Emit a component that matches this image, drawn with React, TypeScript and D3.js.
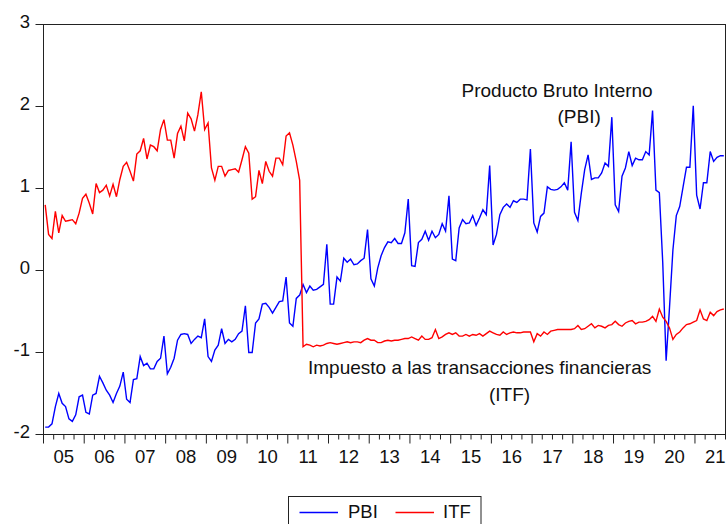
import * as d3 from "d3";

// monthly observations, 2005M01 .. 2021M09
const startYear = 2005;
const nObs = 201;

// Producto Bruto Interno (standardised)
const pbi = [
  -1.91, -1.91, -1.87, -1.66, -1.5, -1.62, -1.66, -1.81, -1.84, -1.76, -1.54, -1.52, // 05
  -1.73, -1.75, -1.52, -1.5, -1.29, -1.37, -1.46, -1.52, -1.61, -1.5, -1.41, -1.24, // 06
  -1.57, -1.61, -1.33, -1.32, -1.05, -1.16, -1.13, -1.2, -1.2, -1.11, -1.07, -0.8, // 07
  -1.26, -1.18, -1.07, -0.85, -0.78, -0.77, -0.78, -0.89, -0.84, -0.8, -0.82, -0.59, // 08
  -1.05, -1.11, -0.97, -0.91, -0.71, -0.89, -0.84, -0.87, -0.84, -0.77, -0.74, -0.43, // 09
  -1.0, -1.0, -0.64, -0.59, -0.41, -0.4, -0.45, -0.52, -0.45, -0.38, -0.37, -0.08, // 10
  -0.64, -0.68, -0.34, -0.3, -0.17, -0.27, -0.19, -0.24, -0.23, -0.2, -0.17, 0.32, // 11
  -0.41, -0.41, -0.08, -0.13, 0.15, 0.1, 0.14, 0.07, 0.08, 0.12, 0.15, 0.5, // 12
  -0.1, -0.19, 0.03, 0.18, 0.28, 0.35, 0.34, 0.39, 0.33, 0.33, 0.46, 0.87, // 13
  0.06, 0.05, 0.34, 0.38, 0.48, 0.37, 0.48, 0.4, 0.44, 0.57, 0.48, 0.91, // 14
  0.14, 0.12, 0.52, 0.62, 0.57, 0.58, 0.67, 0.55, 0.64, 0.74, 0.68, 1.28, // 15
  0.31, 0.44, 0.68, 0.77, 0.81, 0.77, 0.85, 0.83, 0.87, 0.87, 0.86, 1.48, // 16
  0.58, 0.47, 0.66, 0.7, 1.02, 0.99, 0.98, 0.99, 1.02, 1.07, 0.98, 1.57, // 17
  0.71, 0.61, 0.94, 1.23, 1.41, 1.11, 1.13, 1.13, 1.19, 1.31, 1.27, 1.87, // 18
  0.8, 0.72, 1.15, 1.25, 1.45, 1.28, 1.37, 1.35, 1.35, 1.45, 1.41, 1.95, // 19
  0.98, 0.95, 0.1, -1.1, -0.45, 0.25, 0.67, 0.78, 1.02, 1.26, 1.26, 2.01, // 20
  0.92, 0.75, 1.07, 1.07, 1.45, 1.33, 1.38, 1.4, 1.4, // 21
];

// Impuesto a las transacciones financieras (standardised)
const itf = [
  0.8, 0.44, 0.39, 0.72, 0.46, 0.67, 0.6, 0.61, 0.62, 0.57, 0.7, 0.88, // 05
  0.93, 0.82, 0.69, 1.06, 0.95, 0.98, 1.04, 0.91, 1.05, 0.9, 1.11, 1.27, // 06
  1.32, 1.21, 1.09, 1.42, 1.46, 1.61, 1.36, 1.53, 1.51, 1.46, 1.72, 1.84, // 07
  1.59, 1.59, 1.37, 1.67, 1.76, 1.58, 1.92, 1.85, 1.7, 1.9, 2.18, 1.72, // 08
  1.8, 1.25, 1.1, 1.27, 1.27, 1.15, 1.22, 1.23, 1.24, 1.2, 1.35, 1.51, // 09
  1.43, 0.87, 0.9, 1.22, 1.06, 1.33, 1.21, 1.15, 1.37, 1.37, 1.29, 1.64, // 10
  1.68, 1.53, 1.33, 1.1, -0.93, -0.9, -0.91, -0.93, -0.91, -0.92, -0.91, -0.89, // 11
  -0.88, -0.89, -0.9, -0.89, -0.88, -0.87, -0.88, -0.87, -0.87, -0.88, -0.85, -0.83, // 12
  -0.85, -0.85, -0.88, -0.88, -0.86, -0.85, -0.86, -0.85, -0.85, -0.84, -0.83, -0.83, // 13
  -0.81, -0.83, -0.85, -0.8, -0.84, -0.84, -0.82, -0.72, -0.83, -0.81, -0.78, -0.76, // 14
  -0.78, -0.76, -0.8, -0.8, -0.78, -0.8, -0.78, -0.79, -0.77, -0.8, -0.77, -0.74, // 15
  -0.76, -0.78, -0.79, -0.75, -0.78, -0.76, -0.75, -0.76, -0.76, -0.75, -0.75, -0.75, // 16
  -0.87, -0.77, -0.8, -0.75, -0.78, -0.74, -0.73, -0.72, -0.72, -0.72, -0.72, -0.72, // 17
  -0.71, -0.67, -0.72, -0.71, -0.68, -0.65, -0.7, -0.67, -0.68, -0.7, -0.67, -0.66, // 18
  -0.62, -0.66, -0.68, -0.64, -0.62, -0.61, -0.65, -0.63, -0.63, -0.62, -0.6, -0.56, // 19
  -0.62, -0.47, -0.57, -0.62, -0.7, -0.84, -0.78, -0.75, -0.7, -0.66, -0.65, -0.63, // 20
  -0.61, -0.48, -0.59, -0.61, -0.51, -0.55, -0.5, -0.48, -0.47, // 21
];

const yTicks = [-2, -1, 0, 1, 2, 3];
const yearLabels = ["05", "06", "07", "08", "09", "10", "11", "12", "13", "14", "15", "16", "17", "18", "19", "20", "21"];

const W = 728;
const H = 524;
const left = 43.5;
const right = 725.5;
const top = 24.5;
const bottom = 434.5;
const font = "'Liberation Sans', Arial, sans-serif";

export default function App() {
  const x = d3.scaleLinear().domain([-0.5, nObs - 0.5]).range([left, right]);
  const y = d3.scaleLinear().domain([-2, 3]).range([bottom, top]);

  const line = d3
    .line<number>()
    .x((_, i) => x(i))
    .y((d) => y(d));

  // quarterly ticks, the yearly ones longer
  const qTicks = d3.range(0, nObs + 1, 3);

  return (
    <svg
      width={W}
      height={H}
      style={{ position: "absolute", left: 0, top: 0, background: "#fff" }}
      fontFamily={font}
    >
      <path d={line(pbi) ?? ""} fill="none" stroke="#0000ff" strokeWidth={1.4} />
      <path d={line(itf) ?? ""} fill="none" stroke="#ff0000" strokeWidth={1.4} />

      <rect x={left} y={top} width={right - left} height={bottom - top} fill="none" stroke="#222" strokeWidth={1} />

      {yTicks.map((t) => (
        <g key={t}>
          <line x1={left - 8} x2={left} y1={y(t)} y2={y(t)} stroke="#222" />
          <text x={30} y={y(t) + 3} textAnchor="end" fontSize={18.5} fill="#111">
            {t}
          </text>
        </g>
      ))}

      {qTicks.map((q) => (
        <line
          key={q}
          x1={x(q - 0.5)}
          x2={x(q - 0.5)}
          y1={bottom}
          y2={bottom + (q % 12 === 0 ? 9 : 5)}
          stroke="#222"
        />
      ))}
      {yearLabels.map((lab, k) => (
        <text key={lab} x={x(12 * k + 5.5)} y={463} textAnchor="middle" fontSize={18.5} fill="#111">
          {lab}
        </text>
      ))}

      <g fontSize={19} fill="#111">
        <text x={461.5} y={96.5}>Producto Bruto Interno</text>
        <text x={557.5} y={123}>(PBI)</text>
        <text x={308} y={373.5}>Impuesto a las transacciones financieras</text>
        <text x={489} y={401}>(ITF)</text>
      </g>

      <g>
        <rect x={288.5} y={496.5} width={192.5} height={40} fill="#fff" stroke="#222" />
        <line x1={299.5} x2={338} y1={512.5} y2={512.5} stroke="#0000ff" strokeWidth={1.4} />
        <text x={348} y={517.5} fontSize={18.5} fill="#111">PBI</text>
        <line x1={395.5} x2={434} y1={512.5} y2={512.5} stroke="#ff0000" strokeWidth={1.4} />
        <text x={443} y={517.5} fontSize={18.5} fill="#111">ITF</text>
      </g>
    </svg>
  );
}
